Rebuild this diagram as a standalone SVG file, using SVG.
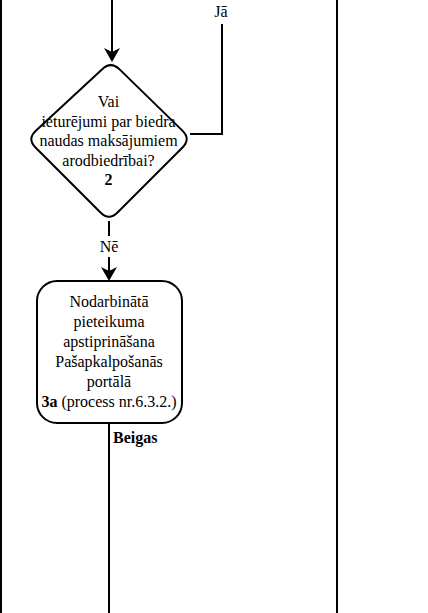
<svg xmlns="http://www.w3.org/2000/svg" width="428" height="613" viewBox="0 0 428 613">
  <style>
    .t { font-family: "Liberation Serif", "Times New Roman", serif; font-size: 16px; fill: #000; }
    .c { text-anchor: middle; }
    .b { font-weight: bold; }
    .shape { fill: #fff; stroke: #000; stroke-width: 2; }
    .edge { fill: none; stroke: #000; stroke-width: 2; }
    .lane { stroke: #000; stroke-width: 2; }
  </style>
  <defs>
    <marker id="arrow" viewBox="0 0 14 16" refX="10" refY="8" markerWidth="14" markerHeight="16" markerUnits="userSpaceOnUse" orient="auto">
      <path d="M0,0 L14,8 L0,16 L4,8 Z" fill="#000"/>
    </marker>
  </defs>

  <rect x="0" y="0" width="428" height="613" fill="#fff"/>

  <!-- swimlane borders -->
  <g id="lanes">
    <line class="lane" x1="1" y1="0" x2="1" y2="613" stroke-width="1.5"/>
    <line class="lane" x1="337" y1="0" x2="337" y2="613"/>
  </g>

  <!-- connectors -->
  <g id="connectors">
    <path class="edge" d="M112,0 L112,58" marker-end="url(#arrow)"/>
    <path class="edge" d="M190,134 L222,134 L222,24"/>
    <path class="edge" d="M109,221 L109,277" marker-end="url(#arrow)"/>
    <path class="edge" d="M109,423 L109,613"/>
    <text class="t c" x="221" y="17">Jā</text>
    <rect x="98" y="236" width="22" height="21" fill="#fff"/>
    <text class="t c" x="109" y="252">Nē</text>
    <text class="t b" x="113" y="443">Beigas</text>
  </g>

  <!-- decision 2 -->
  <g id="decision2">
    <path class="shape" d="M119.6,69.4 L182.4,130.6 Q191,139 182.5,147.5 L117.5,212.5 Q109,221 100.5,212.5 L35.5,147.5 Q27,139 35.8,130.8 L102.2,69.2 Q111,61 119.6,69.4 Z"/>
    <text class="t c" x="108.5" y="107">Vai</text>
    <text class="t c" x="108.5" y="126.5">ieturējumi par biedra</text>
    <text class="t c" x="108.5" y="146">naudas maksājumiem</text>
    <text class="t c" x="108.5" y="165.5">arodbiedrībai?</text>
    <text class="t c b" x="108.5" y="185">2</text>
  </g>

  <!-- process 3a -->
  <g id="process3a">
    <rect class="shape" x="37" y="281" width="145" height="142" rx="20" ry="20"/>
    <text class="t c" x="109" y="307">Nodarbinātā</text>
    <text class="t c" x="109" y="327">pieteikuma</text>
    <text class="t c" x="109" y="347">apstiprināšana</text>
    <text class="t c" x="109" y="367">Pašapkalpošanās</text>
    <text class="t c" x="109" y="386.5">portālā</text>
    <text class="t c" x="109" y="406.5"><tspan class="b">3a</tspan> (process nr.6.3.2.)</text>
  </g>
</svg>
